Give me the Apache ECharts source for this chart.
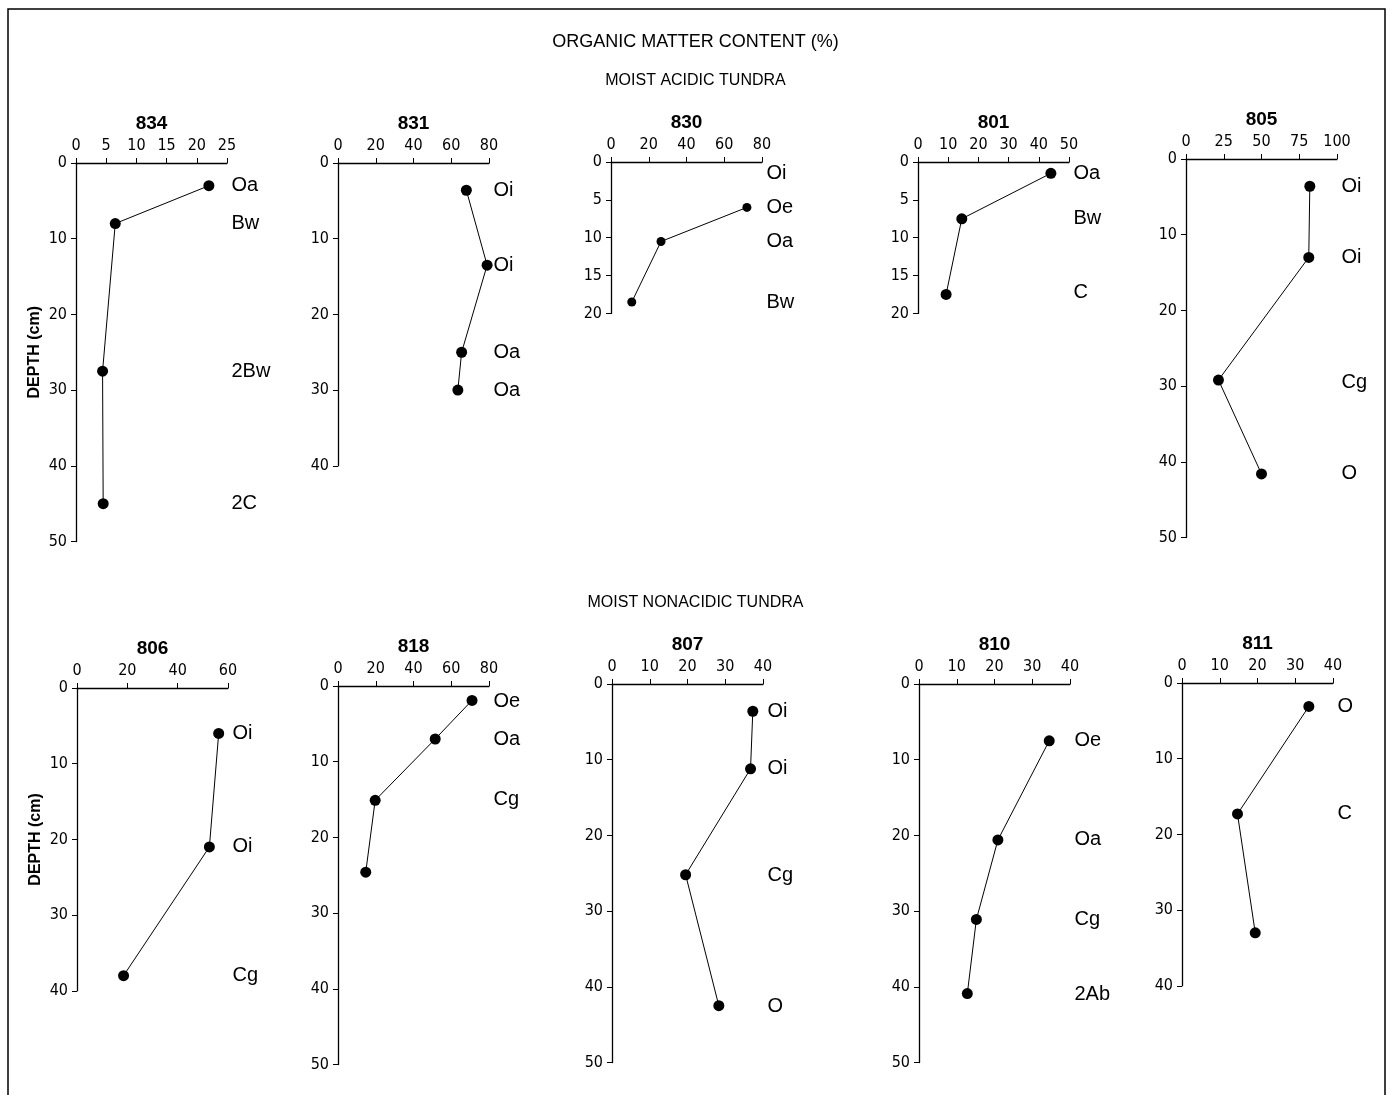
<!DOCTYPE html>
<html>
<head>
<meta charset="utf-8">
<title>Organic matter content</title>
<script src="https://cdn.jsdelivr.net/npm/echarts@6/dist/echarts.min.js"></script>
<style>
  html, body { margin: 0; padding: 0; background: #fff; }
  #chart { width: 1391px; height: 1095px; }
</style>
</head>
<body>
<div id="chart"></div>
<script>
// profile ids, top row = moist acidic tundra, bottom row = moist nonacidic tundra
const topRow = ['834', '831', '830', '801', '805']
const bottomRow = ['806', '818', '807', '810', '811']

// organic matter (%) and sample depth (cm) for each profile
const pct834 = [22, 6.5, 4.4, 4.5]
const depth834 = [3, 8, 27.5, 45]
const pct831 = [68, 79, 65.5, 63.5]
const depth831 = [3.6, 13.5, 25, 30]
const pct830 = [72, 26.5, 11]
const depth830 = [6, 10.5, 18.5]
const pct801 = [44, 14.5, 9.3]
const depth801 = [1.5, 7.5, 17.5]
const pct805 = [82, 81.3, 21.5, 50]
const depth805 = [3.6, 13, 29.2, 41.6]
const pct806 = [56.3, 52.6, 18.5]
const depth806 = [6, 21, 38]
const pct818 = [71, 51.5, 19.7, 14.7]
const depth818 = [1.9, 7, 15.1, 24.6]
const pct807 = [37.3, 36.7, 19.5, 28.3]
const depth807 = [3.6, 11.2, 25.2, 42.5]
const pct810 = [34.5, 20.9, 15.2, 12.8]
const depth810 = [7.5, 20.6, 31.1, 40.9]
const pct811 = [33.6, 14.7, 19.4]
const depth811 = [3.1, 17.3, 33]

// soil horizon labels and the depth they are written at
const hz834 = ['Oa', 'Bw', '2Bw', '2C']
const hzDepth834 = [3, 8, 27.5, 45]
const hz831 = ['Oi', 'Oi', 'Oa', 'Oa']
const hzDepth831 = [3.6, 13.5, 25, 30]
const hz830 = ['Oi', 'Oe', 'Oa', 'Bw']
const hzDepth830 = [1.5, 6, 10.5, 18.5]
const hz801 = ['Oa', 'Bw', 'C']
const hzDepth801 = [1.5, 7.4, 17.3]
const hz805 = ['Oi', 'Oi', 'Cg', 'O']
const hzDepth805 = [3.6, 13, 29.5, 41.6]
const hz806 = ['Oi', 'Oi', 'Cg']
const hzDepth806 = [6, 21, 38]
const hz818 = ['Oe', 'Oa', 'Cg']
const hzDepth818 = [2, 7, 15]
const hz807 = ['Oi', 'Oi', 'Cg', 'O']
const hzDepth807 = [3.6, 11.2, 25.3, 42.6]
const hz810 = ['Oe', 'Oa', 'Cg', '2Ab']
const hzDepth810 = [7.5, 20.6, 31.1, 41]
const hz811 = ['O', 'C']
const hzDepth811 = [3.1, 17.3]

const profileData = {
  '834': [pct834, depth834, hz834, hzDepth834],
  '831': [pct831, depth831, hz831, hzDepth831],
  '830': [pct830, depth830, hz830, hzDepth830],
  '801': [pct801, depth801, hz801, hzDepth801],
  '805': [pct805, depth805, hz805, hzDepth805],
  '806': [pct806, depth806, hz806, hzDepth806],
  '818': [pct818, depth818, hz818, hzDepth818],
  '807': [pct807, depth807, hz807, hzDepth807],
  '810': [pct810, depth810, hz810, hzDepth810],
  '811': [pct811, depth811, hz811, hzDepth811]
}

// axis ranges (x = %, y = depth)
const axisRange = {
  '834': { xMax: 25, xStep: 5, yMax: 50, yStep: 10 },
  '831': { xMax: 80, xStep: 20, yMax: 40, yStep: 10 },
  '830': { xMax: 80, xStep: 20, yMax: 20, yStep: 5 },
  '801': { xMax: 50, xStep: 10, yMax: 20, yStep: 5 },
  '805': { xMax: 100, xStep: 25, yMax: 50, yStep: 10 },
  '806': { xMax: 60, xStep: 20, yMax: 40, yStep: 10 },
  '818': { xMax: 80, xStep: 20, yMax: 50, yStep: 10 },
  '807': { xMax: 40, xStep: 10, yMax: 50, yStep: 10 },
  '810': { xMax: 40, xStep: 10, yMax: 50, yStep: 10 },
  '811': { xMax: 40, xStep: 10, yMax: 40, yStep: 10 }
}

// panel placement in pixels
const PX_PER_CM = 7.57
const panelLeft = {
  '834': 76, '831': 338, '830': 611, '801': 918, '805': 1186,
  '806': 77, '818': 338, '807': 612, '810': 919, '811': 1182
}
const panelTop = {
  '834': 163, '831': 163, '830': 162, '801': 162, '805': 159,
  '806': 688, '818': 686, '807': 684, '810': 684, '811': 683
}
const PANEL_W = 151

const numFont = '"Liberation Sans Narrow", "DejaVu Sans Condensed", "Liberation Sans", sans-serif'
const txtFont = '"Liberation Sans", Arial, Helvetica, sans-serif'

const chart = echarts.init(document.getElementById('chart'))

const grid = [], xAxis = [], yAxis = [], series = []
const ids = topRow.concat(bottomRow)

ids.forEach((id, i) => {
  const r = axisRange[id]
  const [pct, depth, hz, hzDepth] = profileData[id]
  grid.push({
    left: panelLeft[id],
    top: panelTop[id],
    width: PANEL_W,
    height: r.yMax * PX_PER_CM
  })
  xAxis.push({
    gridIndex: i,
    type: 'value',
    position: 'top',
    min: 0,
    max: r.xMax,
    interval: r.xStep,
    name: id,
    nameLocation: 'middle',
    nameGap: 30,
    nameTextStyle: { fontFamily: txtFont, fontSize: 19, fontWeight: 'bold', color: '#000' },
    axisLine: { onZero: false, lineStyle: { color: '#000', width: 1.3 } },
    axisTick: { length: 5, lineStyle: { color: '#000', width: 1 } },
    axisLabel: { fontFamily: numFont, fontSize: 16, color: '#000', margin: 9 },
    splitLine: { show: false }
  })
  const isFirst = (id === '834' || id === '806')
  yAxis.push({
    gridIndex: i,
    type: 'value',
    inverse: true,
    min: 0,
    max: r.yMax,
    interval: r.yStep,
    name: isFirst ? 'DEPTH (cm)' : '',
    nameLocation: 'middle',
    nameRotate: 90,
    nameGap: 33,
    nameTextStyle: { fontFamily: txtFont, fontSize: 16, fontWeight: 'bold', color: '#000' },
    axisLine: { onZero: false, lineStyle: { color: '#000', width: 1.3 } },
    axisTick: { length: 5, lineStyle: { color: '#000', width: 1 } },
    axisLabel: { fontFamily: numFont, fontSize: 16, color: '#000', margin: 9 },
    splitLine: { show: false }
  })
  // the profile line with filled dots
  series.push({
    type: 'line',
    xAxisIndex: i,
    yAxisIndex: i,
    data: pct.map((v, k) => [v, depth[k]]),
    symbol: 'circle',
    symbolSize: id === '830' ? 9 : 11,
    showAllSymbol: true,
    lineStyle: { color: '#000', width: 1 },
    itemStyle: { color: '#000', opacity: 1 },
    animation: false,
    z: 3
  })
  // horizon names written to the right of the plot
  series.push({
    type: 'scatter',
    xAxisIndex: i,
    yAxisIndex: i,
    data: hz.map((name, k) => ({ name: name, value: [r.xMax, hzDepth[k]] })),
    symbolSize: 1,
    itemStyle: { color: 'rgba(0,0,0,0)', opacity: 1 },
    silent: true,
    label: {
      show: true,
      position: 'right',
      distance: 4,
      formatter: p => p.name,
      fontFamily: txtFont,
      fontSize: 20,
      color: '#000',
      opacity: 1
    },
    emphasis: { disabled: true },
    animation: false
  })
})

const option = {
  backgroundColor: '#fff',
  animation: false,
  grid: grid,
  xAxis: xAxis,
  yAxis: yAxis,
  series: series,
  graphic: [
    {
      type: 'rect',
      shape: { x: 8, y: 9, width: 1377, height: 1100 },
      style: { fill: 'none', stroke: '#000', lineWidth: 1.5 },
      silent: true
    },
    {
      type: 'text', left: 'center', top: 33,
      style: { text: 'ORGANIC MATTER CONTENT (%)', font: '18px ' + txtFont, fill: '#000' }
    },
    {
      type: 'text', left: 'center', top: 73,
      style: { text: 'MOIST ACIDIC TUNDRA', font: '16px ' + txtFont, fill: '#000' }
    },
    {
      type: 'text', left: 'center', top: 595,
      style: { text: 'MOIST NONACIDIC TUNDRA', font: '16px ' + txtFont, fill: '#000' }
    }
  ]
}

chart.setOption(option)
</script>
</body>
</html>
